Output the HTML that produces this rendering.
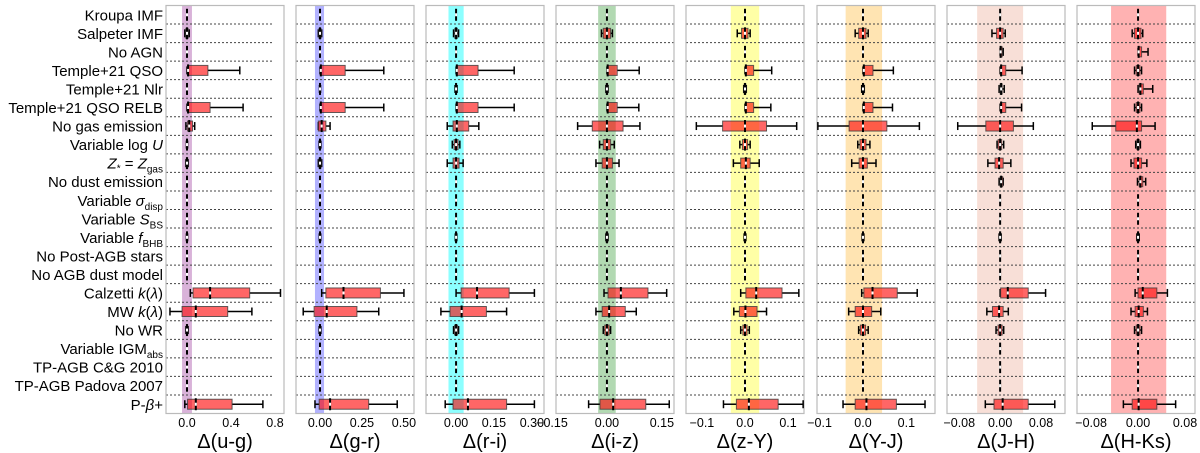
<!DOCTYPE html>
<html><head><meta charset="utf-8">
<style>
html,body{margin:0;padding:0;background:#fff;}
svg{display:block;font-family:"Liberation Sans","DejaVu Sans",sans-serif;}
</style></head>
<body>
<svg id="chart" width="1200" height="453" viewBox="0 0 1200 453" xmlns="http://www.w3.org/2000/svg">
<g id="labels" font-size="15" fill="#000" text-anchor="end">
<text x="163" y="20.3">Kroupa IMF</text>
<text x="163" y="38.8">Salpeter IMF</text>
<text x="163" y="57.4">No AGN</text>
<text x="163" y="75.9">Temple+21 QSO</text>
<text x="163" y="94.5">Temple+21 Nlr</text>
<text x="163" y="113">Temple+21 QSO RELB</text>
<text x="163" y="131.6">No gas emission</text>
<text x="163" y="150.1">Variable log <tspan font-style="italic">U</tspan></text>
<text x="163" y="168.7"><tspan font-style="italic">Z</tspan><tspan font-size="10" dy="3">*</tspan><tspan dy="-3"> = </tspan><tspan font-style="italic">Z</tspan><tspan font-size="10" dy="4">gas</tspan></text>
<text x="163" y="187.2">No dust emission</text>
<text x="163" y="205.8">Variable <tspan font-style="italic">σ</tspan><tspan font-size="10" dy="4">disp</tspan></text>
<text x="163" y="224.3">Variable <tspan font-style="italic">S</tspan><tspan font-size="10" dy="4">BS</tspan></text>
<text x="163" y="242.8">Variable <tspan font-style="italic">f</tspan><tspan font-size="10" dy="4">BHB</tspan></text>
<text x="163" y="261.4">No Post-AGB stars</text>
<text x="163" y="279.9">No AGB dust model</text>
<text x="163" y="298.5">Calzetti <tspan font-style="italic">k</tspan>(<tspan font-style="italic">λ</tspan>)</text>
<text x="163" y="317">MW <tspan font-style="italic">k</tspan>(<tspan font-style="italic">λ</tspan>)</text>
<text x="163" y="335.6">No WR</text>
<text x="163" y="354.1">Variable IGM<tspan font-size="10" dy="4">abs</tspan></text>
<text x="163" y="372.7">TP-AGB C&amp;G 2010</text>
<text x="163" y="391.2">TP-AGB Padova 2007</text>
<text x="163" y="409.8">P-<tspan font-style="italic">β</tspan>+</text>
</g>
</svg>
<script>
const panelNames = ["u-g","g-r","r-i","i-z","z-Y","Y-J","J-H","H-Ks"];
const panelLefts = [166,296,426,556,686,817,947,1077];
const domainMin = [-0.191,-0.143,-0.119,-0.139,-0.137,-0.106,-0.104,-0.104];
const domainMax = [0.882,0.560,0.348,0.183,0.137,0.166,0.127,0.097];
const tickValues = [[0,0.4,0.8],[0,0.25,0.5],[0,0.15,0.3],[-0.15,0,0.15],[-0.1,0,0.1],[-0.1,0,0.1],[-0.08,0,0.08],[-0.08,0,0.08]];
const tickLabels = [["0.0","0.4","0.8"],["0.00","0.25","0.50"],["0.00","0.15","0.30"],["\u22120.15","0.00","0.15"],["\u22120.1","0.0","0.1"],["\u22120.1","0.0","0.1"],["\u22120.08","0.00","0.08"],["\u22120.08","0.00","0.08"]];
const bandLo = [-0.045,-0.03,-0.03,-0.024,-0.033,-0.04,-0.045,-0.046];
const bandHi = [0.045,0.024,0.03,0.024,0.033,0.044,0.045,0.048];
const bandColors = ["rgba(128,0,128,0.3)","rgba(0,0,255,0.3)","rgba(0,255,255,0.45)","rgba(0,128,0,0.3)","rgba(255,255,0,0.35)","rgba(255,165,0,0.3)","rgba(233,150,122,0.3)","rgba(255,0,0,0.3)"];
const Z = [0,0,0,0,0];
// each row: [whiskerLow, q1, median, q3, whiskerHigh]
const statsUG = [Z,[-0.02,-0.01,0,0.01,0.02],Z,[0,0.005,0.01,0.19,0.48],Z,[0,0.005,0.01,0.21,0.51],[-0.01,0.005,0.02,0.05,0.07],[-0.005,-0.003,0,0.003,0.005],[-0.01,-0.006,0,0.006,0.01],Z,Z,Z,[-0.005,-0.003,0,0.003,0.005],Z,Z,[0.03,0.055,0.21,0.57,0.85],[-0.155,-0.045,0.08,0.37,0.59],[-0.01,-0.006,0,0.006,0.01],Z,Z,Z,[-0.02,0.005,0.08,0.41,0.69]];
const statsGR = [Z,[-0.01,-0.006,0,0.006,0.01],Z,[0,0.002,0.005,0.15,0.38],[-0.003,-0.002,0,0.002,0.003],[0,0.002,0.005,0.15,0.38],[-0.01,-0.01,0.01,0.035,0.06],[-0.005,-0.003,0,0.003,0.005],[-0.01,-0.006,0,0.006,0.01],Z,Z,Z,[-0.004,-0.002,0,0.002,0.004],Z,Z,[0.01,0.035,0.14,0.36,0.5],[-0.1,-0.035,0.04,0.22,0.35],[-0.005,-0.003,0,0.003,0.005],Z,Z,Z,[-0.03,-0.005,0.06,0.29,0.46]];
const statsRI = [Z,[-0.01,-0.005,0,0.005,0.01],Z,[0,0.001,0.003,0.087,0.23],[-0.004,-0.002,0,0.002,0.004],[0,0.001,0.003,0.087,0.23],[-0.035,-0.012,0.003,0.05,0.09],[-0.015,-0.008,0,0.008,0.015],[-0.035,-0.012,0,0.012,0.028],Z,Z,Z,[-0.003,-0.002,0,0.002,0.003],Z,Z,[0,0.02,0.083,0.21,0.31],[-0.06,-0.024,0.022,0.12,0.2],[-0.01,-0.006,0,0.006,0.01],Z,Z,Z,[-0.043,-0.012,0.047,0.2,0.31]];
const statsIZ = [Z,[-0.015,-0.01,0,0.01,0.015],Z,[0,0.001,0.002,0.028,0.088],[-0.003,-0.002,0,0.002,0.003],[0,0.001,0.002,0.028,0.087],[-0.08,-0.04,0,0.044,0.09],[-0.02,-0.01,0,0.01,0.02],[-0.03,-0.013,0,0.015,0.033],Z,Z,Z,[-0.003,-0.002,0,0.002,0.003],Z,Z,[-0.008,0.003,0.038,0.112,0.163],[-0.03,-0.013,0.006,0.05,0.08],[-0.01,-0.006,0,0.006,0.01],Z,Z,Z,[-0.05,-0.019,0.017,0.106,0.17]];
const statsZY = [Z,[-0.018,-0.008,0,0.007,0.012],Z,[0,0.001,0.002,0.02,0.062],[-0.003,-0.002,0,0.002,0.003],[0,0.001,0.002,0.02,0.06],[-0.113,-0.052,0,0.05,0.12],[-0.012,-0.006,0,0.006,0.012],[-0.027,-0.01,0.002,0.012,0.033],Z,Z,Z,[-0.002,-0.001,0,0.001,0.002],Z,Z,[-0.01,0.002,0.026,0.086,0.125],[-0.026,-0.013,0.001,0.028,0.05],[-0.01,-0.005,0,0.005,0.01],Z,Z,Z,[-0.05,-0.02,0.009,0.077,0.135]];
const statsYJ = [Z,[-0.018,-0.01,0,0.007,0.012],Z,[0,0.001,0.002,0.023,0.07],[-0.003,-0.001,0,0.002,0.003],[0,0.001,0.002,0.023,0.068],[-0.104,-0.032,0,0.055,0.13],[-0.012,-0.007,0,0.007,0.016],[-0.026,-0.009,0,0.01,0.03],Z,Z,Z,[-0.002,-0.001,0,0.001,0.002],Z,Z,[-0.003,0.002,0.022,0.079,0.125],[-0.033,-0.018,0,0.02,0.041],[-0.01,-0.006,0,0.006,0.012],Z,Z,Z,[-0.046,-0.018,0.008,0.077,0.143]];
const statsJH = [Z,[-0.016,-0.007,0,0.006,0.01],[0,0,0.001,0.004,0.006],[0,0.001,0.002,0.011,0.043],[-0.002,0,0.002,0.004,0.008],[0,0.001,0.002,0.011,0.042],[-0.083,-0.028,0,0.026,0.065],[-0.006,-0.004,0,0.003,0.007],[-0.024,-0.01,-0.002,0.006,0.021],[-0.002,0,0.002,0.005,0.006],Z,Z,[-0.002,-0.001,0,0.001,0.002],Z,Z,[0,0.001,0.015,0.055,0.089],[-0.026,-0.015,-0.002,0.006,0.016],[-0.008,-0.004,0,0.004,0.007],Z,Z,Z,[-0.029,-0.012,0.005,0.055,0.107]];
const statsHK = [Z,[-0.01,-0.006,0,0.005,0.008],[0,0,0.001,0.006,0.017],[-0.006,-0.003,0,0.003,0.006],[0,0.002,0.004,0.009,0.025],[-0.006,-0.003,0,0.003,0.006],[-0.078,-0.038,-0.002,0.006,0.029],[-0.004,-0.002,0,0.002,0.004],[-0.012,-0.007,0,0.006,0.015],[-0.001,0.002,0.004,0.008,0.013],Z,Z,[-0.002,-0.001,0,0.001,0.002],Z,Z,[-0.005,0,0.008,0.032,0.05],[-0.012,-0.005,0.001,0.009,0.016],[-0.006,-0.003,0,0.003,0.006],Z,Z,Z,[-0.025,-0.01,0.001,0.032,0.064]];
const allStats = [statsUG,statsGR,statsRI,statsIZ,statsZY,statsYJ,statsJH,statsHK];

const NS = "http://www.w3.org/2000/svg";
const svg = document.getElementById("chart");
const W = 118, TOP = 5.5, BOT = 413.5, NROWS = 22, RH = (BOT-TOP)/NROWS;
function yRow(i){ return TOP + (i+0.5)*RH; }
function mk(tag, attrs, parent){ const e=document.createElementNS(NS,tag); for(const k in attrs) e.setAttribute(k,attrs[k]); parent.appendChild(e); return e; }

panelNames.forEach((name,p)=>{
  const L = panelLefts[p];
  const xs = v => L + (v - domainMin[p])/(domainMax[p]-domainMin[p])*W;
  const g = mk("g",{},svg);
  
  
  const band = mk("rect",{x:xs(bandLo[p]),y:TOP,width:xs(bandHi[p])-xs(bandLo[p]),height:BOT-TOP,fill:bandColors[p]},g);
  
  
  const dashEnd = p===0 ? L+107 : L+W;
  for(let i=1;i<NROWS;i++){
    const y = TOP + i*RH;
    const ln = mk("line",{x1:L,x2:dashEnd,y1:y,y2:y,stroke:"#444","stroke-width":1,"stroke-dasharray":"2,2"},g);
    
    
  }
  const frame = mk("rect",{x:L,y:TOP,width:W,height:BOT-TOP,fill:"none",stroke:"#bbb","stroke-width":1.2},g);
  
  
  allStats[p].forEach((s,i)=>{
    const yc = yRow(i);
    const bg = mk("g",{},g);
    
    
    const [wl,q1,md,q3,wh] = s.map(xs);
    if (wh - wl > 1) {
      mk("line",{x1:wl,x2:q1,y1:yc,y2:yc,stroke:"#000","stroke-width":1.5},bg);
      mk("line",{x1:q3,x2:wh,y1:yc,y2:yc,stroke:"#000","stroke-width":1.5},bg);
      mk("line",{x1:wl,x2:wl,y1:yc-4,y2:yc+4,stroke:"#000","stroke-width":1.5},bg);
      mk("line",{x1:wh,x2:wh,y1:yc-4,y2:yc+4,stroke:"#000","stroke-width":1.5},bg);
    }
    if (q3 - q1 > 0.5) {
      mk("rect",{x:q1,y:yc-5,width:q3-q1,height:10,fill:"rgba(255,0,0,0.6)",stroke:"rgba(60,60,60,0.8)","stroke-width":1},bg);
    }
    mk("line",{x1:md,x2:md,y1:yc-6,y2:yc+6,stroke:"#000","stroke-width":2},bg);
    mk("rect",{x:md-1,y:yc-1.5,width:2,height:3,fill:"#fff"},bg);
  });
  tickValues[p].forEach((t,k)=>{
    const tx = mk("text",{x:xs(t),y:427,"font-size":12.5,"text-anchor":"middle",fill:"#000"},g);
    
    
    tx.textContent = tickLabels[p][k];
  });
  const xl = mk("text",{x:L+W/2,y:448,"font-size":20,"text-anchor":"middle",fill:"#000"},g);
  
  
  xl.textContent = "\u0394(" + name + ")";
});
</script>
</body></html>
